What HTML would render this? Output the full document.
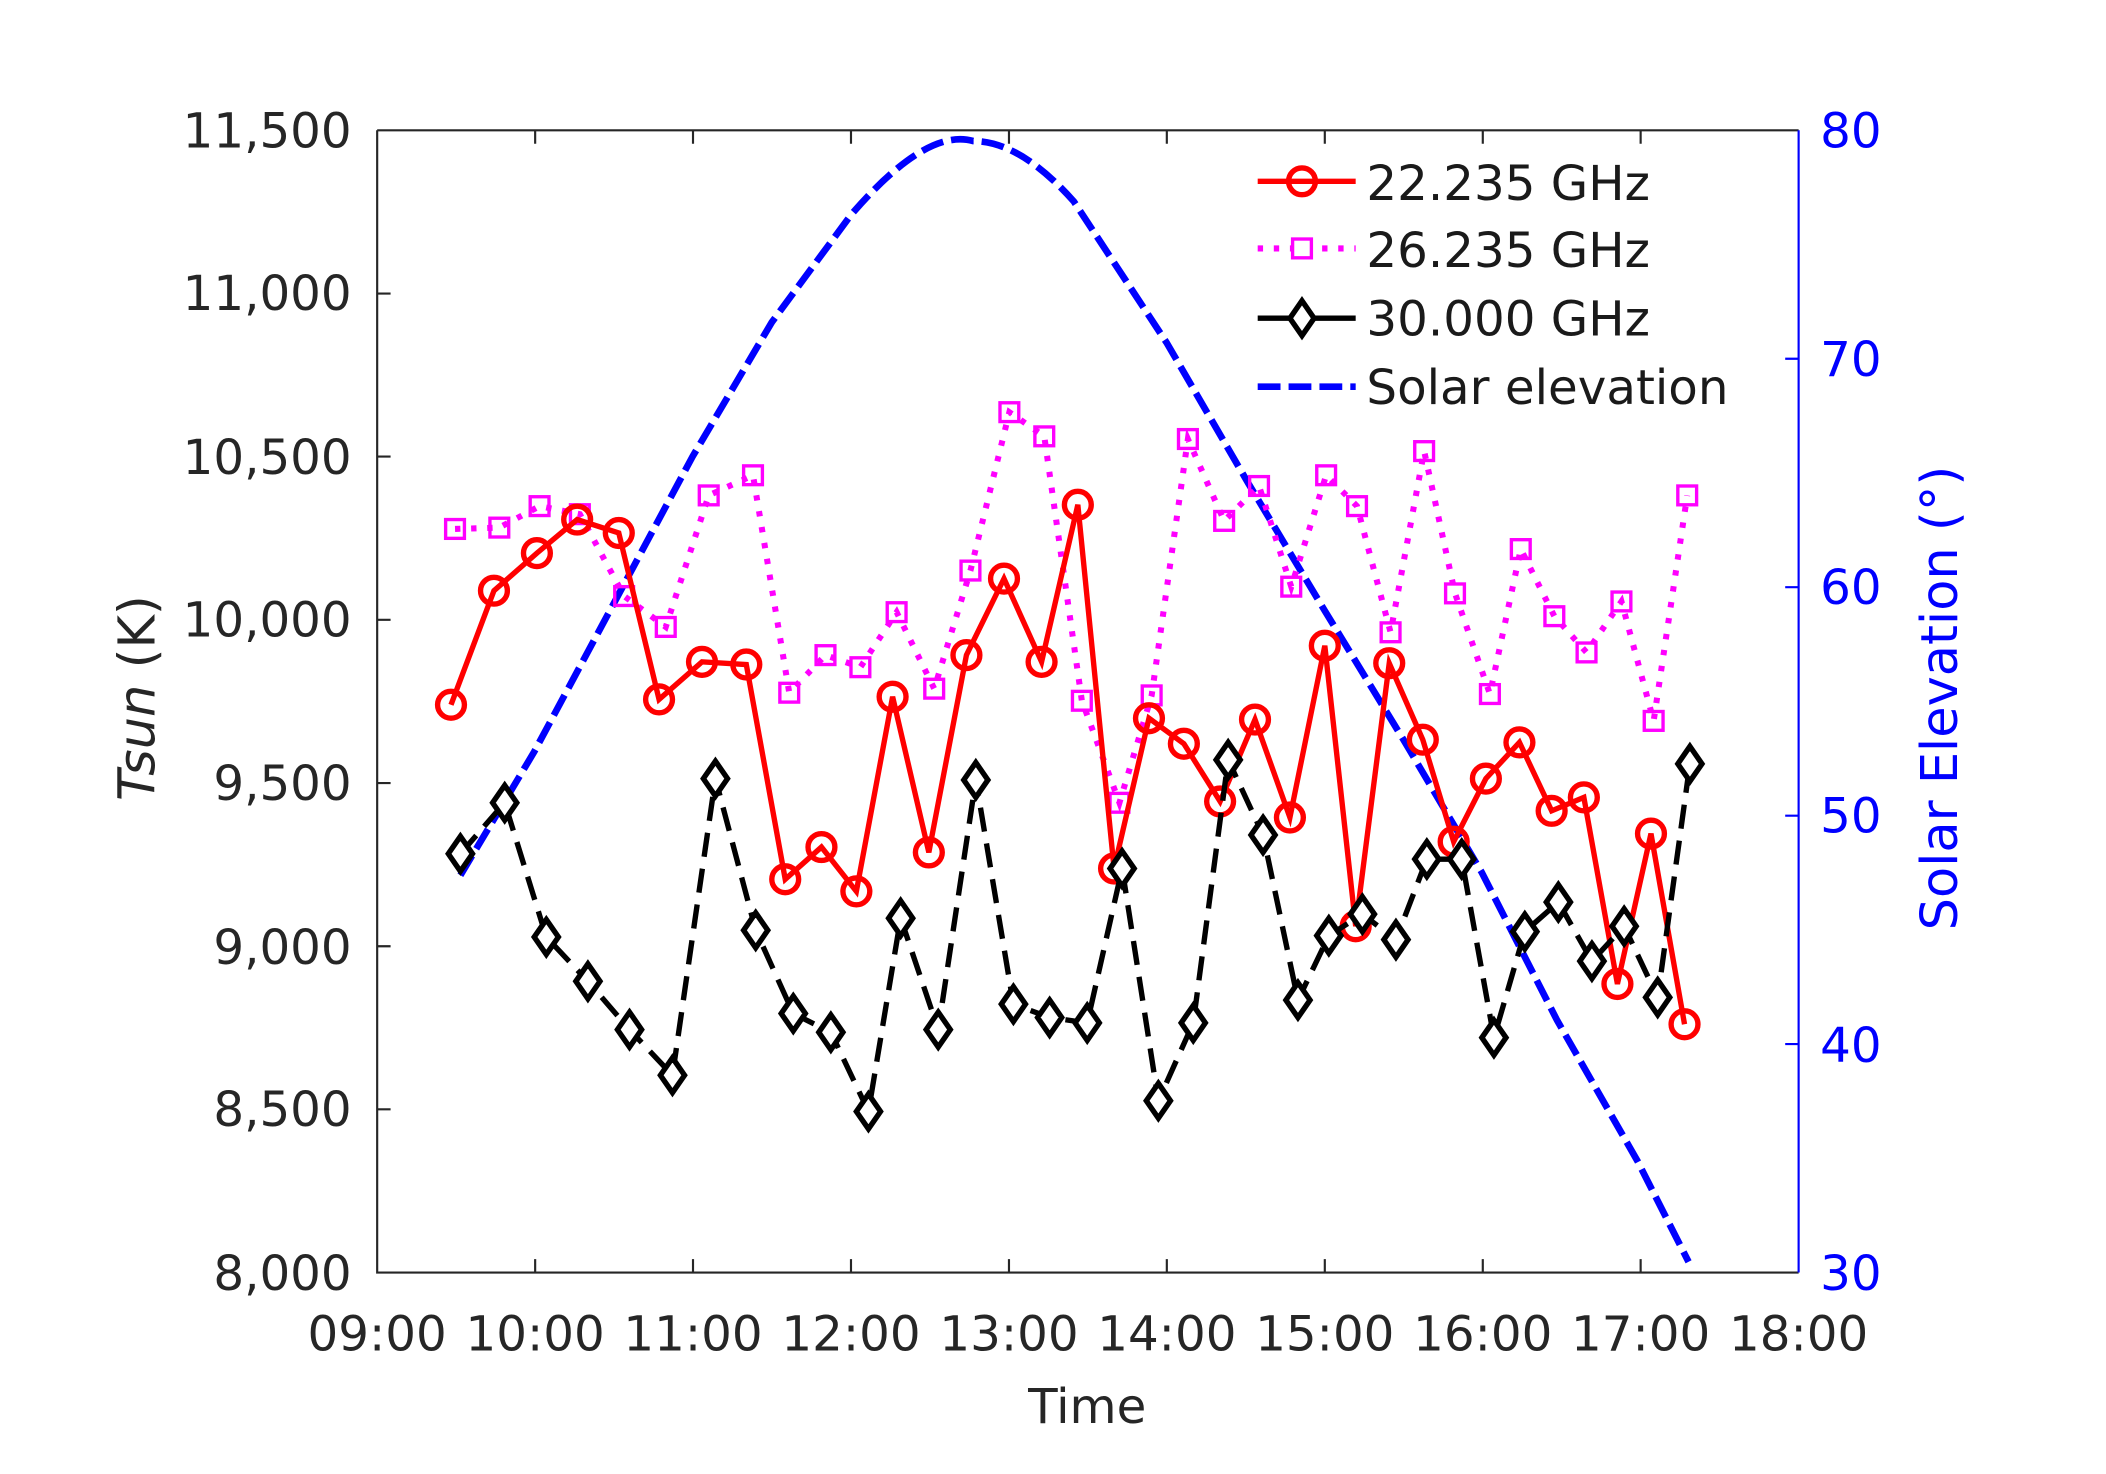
<!DOCTYPE html>
<html><head><meta charset="utf-8"><style>html,body{margin:0;padding:0;background:#fff}svg{display:block}</style></head>
<body>
<svg width="2106" height="1474" viewBox="0 0 1569 1098" xmlns="http://www.w3.org/2000/svg" font-family="'DejaVu Sans','Liberation Sans',sans-serif">
<rect width="1569" height="1098" fill="#fff"/>
<g stroke="#262626" stroke-width="1.6" fill="none">
<path d="M281 97 H1340 M281 97 V948 H1340"/>
<path d="M398.7 948 v-10 M516.3 948 v-10 M634 948 v-10 M751.7 948 v-10 M869.3 948 v-10 M987 948 v-10 M1104.7 948 v-10 M1222.3 948 v-10"/>
<path d="M398.7 97 v10 M516.3 97 v10 M634 97 v10 M751.7 97 v10 M869.3 97 v10 M987 97 v10 M1104.7 97 v10 M1222.3 97 v10"/>
<path d="M281 218.6 h10 M281 340.1 h10 M281 461.7 h10 M281 583.3 h10 M281 704.9 h10 M281 826.4 h10"/>
</g>
<g stroke="#0000ff" stroke-width="1.6" fill="none">
<path d="M1340 97 V948"/>
<path d="M1340 267.2 h-10 M1340 437.4 h-10 M1340 607.6 h-10 M1340 777.8 h-10"/>
</g>
<g font-size="36" fill="#262626" text-anchor="end">
<text x="262" y="110">11,500</text><text x="262" y="231">11,000</text><text x="262" y="353">10,500</text>
<text x="262" y="474">10,000</text><text x="262" y="596">9,500</text><text x="262" y="718">9,000</text>
<text x="262" y="839">8,500</text><text x="262" y="961">8,000</text>
</g>
<g font-size="36" fill="#0000ff">
<text x="1356" y="110">80</text><text x="1356" y="280">70</text><text x="1356" y="450">60</text>
<text x="1356" y="620">50</text><text x="1356" y="791">40</text><text x="1356" y="961">30</text>
</g>
<g font-size="36" fill="#262626" text-anchor="middle">
<text x="281" y="1006">09:00</text><text x="398.7" y="1006">10:00</text><text x="516.3" y="1006">11:00</text>
<text x="634" y="1006">12:00</text><text x="751.7" y="1006">13:00</text><text x="869.3" y="1006">14:00</text>
<text x="987" y="1006">15:00</text><text x="1104.7" y="1006">16:00</text><text x="1222.3" y="1006">17:00</text>
<text x="1340" y="1006">18:00</text>
<text x="810" y="1060">Time</text>
</g>
<text transform="translate(115,520) rotate(-90)" font-size="38" fill="#262626" text-anchor="middle"><tspan font-style="italic">Tsun</tspan> (K)</text>
<text transform="translate(1458,520) rotate(-90)" font-size="38" fill="#0000ff" text-anchor="middle">Solar Elevation (°)</text>

<path d="M343 652 L398 560 L457 450 L516 340 L575 240 L634 160 Q690 95 725 105 Q760 105 800 150 L869 255 L930 360 L987 455 L1045 550 L1104 650 L1160 760 L1220 865 L1258 940" fill="none" stroke="#0000ff" stroke-width="5" stroke-dasharray="17 6"/>

<polyline fill="none" stroke="#ff00ff" stroke-width="4.5" stroke-dasharray="4 8" points="339,394 372,393 402,377 432,383 465,444 496,467 528,369 561,354 588,516 615,488 641,497 668,456 696,513 723,425 752,307 778,325 806,522 834,598 858,518 885,327 912,388 938,362 962,437 988,354 1011,377 1036,471 1061,336 1084,442 1110,517 1133,409 1158,459 1182,486 1208,448 1232,537 1257,369"/>
<g fill="none" stroke="#ff00ff" stroke-width="2.5">
<rect x="332" y="387" width="14" height="14"/><rect x="365" y="386" width="14" height="14"/><rect x="395" y="370" width="14" height="14"/><rect x="425" y="376" width="14" height="14"/><rect x="458" y="437" width="14" height="14"/><rect x="489" y="460" width="14" height="14"/><rect x="521" y="362" width="14" height="14"/><rect x="554" y="347" width="14" height="14"/><rect x="581" y="509" width="14" height="14"/><rect x="608" y="481" width="14" height="14"/><rect x="634" y="490" width="14" height="14"/><rect x="661" y="449" width="14" height="14"/><rect x="689" y="506" width="14" height="14"/><rect x="716" y="418" width="14" height="14"/><rect x="745" y="300" width="14" height="14"/><rect x="771" y="318" width="14" height="14"/><rect x="799" y="515" width="14" height="14"/><rect x="827" y="591" width="14" height="14"/><rect x="851" y="511" width="14" height="14"/><rect x="878" y="320" width="14" height="14"/><rect x="905" y="381" width="14" height="14"/><rect x="931" y="355" width="14" height="14"/><rect x="955" y="430" width="14" height="14"/><rect x="981" y="347" width="14" height="14"/><rect x="1004" y="370" width="14" height="14"/><rect x="1029" y="464" width="14" height="14"/><rect x="1054" y="329" width="14" height="14"/><rect x="1077" y="435" width="14" height="14"/><rect x="1103" y="510" width="14" height="14"/><rect x="1126" y="402" width="14" height="14"/><rect x="1151" y="452" width="14" height="14"/><rect x="1175" y="479" width="14" height="14"/><rect x="1201" y="441" width="14" height="14"/><rect x="1225" y="530" width="14" height="14"/><rect x="1250" y="362" width="14" height="14"/>
</g>

<polyline fill="none" stroke="#ff0000" stroke-width="4" points="336,525 368,440 400,412 430,387 461,397 491,521 523,493 556,495 585,655 612,631 638,664 665,519 692,635 720,488 748,431 776,493 803,376 830,647 856,535 882,554 909,597 935,536 961,609 987,481 1010,690 1035,494 1060,551 1083,627 1107,580 1132,553 1156,604 1180,594 1205,733 1230,621 1255,763"/>
<g fill="none" stroke="#ff0000" stroke-width="4">
<circle cx="336" cy="525" r="10"/><circle cx="368" cy="440" r="10"/><circle cx="400" cy="412" r="10"/><circle cx="430" cy="387" r="10"/><circle cx="461" cy="397" r="10"/><circle cx="491" cy="521" r="10"/><circle cx="523" cy="493" r="10"/><circle cx="556" cy="495" r="10"/><circle cx="585" cy="655" r="10"/><circle cx="612" cy="631" r="10"/><circle cx="638" cy="664" r="10"/><circle cx="665" cy="519" r="10"/><circle cx="692" cy="635" r="10"/><circle cx="720" cy="488" r="10"/><circle cx="748" cy="431" r="10"/><circle cx="776" cy="493" r="10"/><circle cx="803" cy="376" r="10"/><circle cx="830" cy="647" r="10"/><circle cx="856" cy="535" r="10"/><circle cx="882" cy="554" r="10"/><circle cx="909" cy="597" r="10"/><circle cx="935" cy="536" r="10"/><circle cx="961" cy="609" r="10"/><circle cx="987" cy="481" r="10"/><circle cx="1010" cy="690" r="10"/><circle cx="1035" cy="494" r="10"/><circle cx="1060" cy="551" r="10"/><circle cx="1083" cy="627" r="10"/><circle cx="1107" cy="580" r="10"/><circle cx="1132" cy="553" r="10"/><circle cx="1156" cy="604" r="10"/><circle cx="1180" cy="594" r="10"/><circle cx="1205" cy="733" r="10"/><circle cx="1230" cy="621" r="10"/><circle cx="1255" cy="763" r="10"/>
</g>

<polyline fill="none" stroke="#000" stroke-width="4" stroke-dasharray="18 9" points="343,636 376,598 407,698 438,731 469,767 501,801 533,580 563,693 591,755 619,769 647,828 671,684 699,767 727,581 755,748 782,758 810,762 836,647 863,820 889,762 915,566 941,622 967,745 990,697 1015,681 1040,700 1063,640 1089,640 1113,773 1136,694 1161,672 1186,716 1210,690 1235,743 1259,569"/>
<g fill="#fff" stroke="#000" stroke-width="4">
<path d="M343 623 l9 13 l-9 13 l-9 -13z M376 585 l9 13 l-9 13 l-9 -13z M407 685 l9 13 l-9 13 l-9 -13z M438 718 l9 13 l-9 13 l-9 -13z M469 754 l9 13 l-9 13 l-9 -13z M501 788 l9 13 l-9 13 l-9 -13z M533 567 l9 13 l-9 13 l-9 -13z M563 680 l9 13 l-9 13 l-9 -13z M591 742 l9 13 l-9 13 l-9 -13z M619 756 l9 13 l-9 13 l-9 -13z M647 815 l9 13 l-9 13 l-9 -13z M671 671 l9 13 l-9 13 l-9 -13z M699 754 l9 13 l-9 13 l-9 -13z M727 568 l9 13 l-9 13 l-9 -13z M755 735 l9 13 l-9 13 l-9 -13z M782 745 l9 13 l-9 13 l-9 -13z M810 749 l9 13 l-9 13 l-9 -13z M836 634 l9 13 l-9 13 l-9 -13z M863 807 l9 13 l-9 13 l-9 -13z M889 749 l9 13 l-9 13 l-9 -13z M915 553 l9 13 l-9 13 l-9 -13z M941 609 l9 13 l-9 13 l-9 -13z M967 732 l9 13 l-9 13 l-9 -13z M990 684 l9 13 l-9 13 l-9 -13z M1015 668 l9 13 l-9 13 l-9 -13z M1040 687 l9 13 l-9 13 l-9 -13z M1063 627 l9 13 l-9 13 l-9 -13z M1089 627 l9 13 l-9 13 l-9 -13z M1113 760 l9 13 l-9 13 l-9 -13z M1136 681 l9 13 l-9 13 l-9 -13z M1161 659 l9 13 l-9 13 l-9 -13z M1186 703 l9 13 l-9 13 l-9 -13z M1210 677 l9 13 l-9 13 l-9 -13z M1235 730 l9 13 l-9 13 l-9 -13z M1259 556 l9 13 l-9 13 l-9 -13z"/>
</g>

<g>
<line x1="937" y1="135" x2="1010" y2="135" stroke="#ff0000" stroke-width="4"/>
<circle cx="970" cy="135" r="10" fill="none" stroke="#ff0000" stroke-width="4"/>
<line x1="937" y1="185" x2="1010" y2="185" stroke="#ff00ff" stroke-width="4.5" stroke-dasharray="4 8"/>
<rect x="963" y="178" width="14" height="14" fill="#fff" stroke="#ff00ff" stroke-width="2.5"/>
<line x1="937" y1="237" x2="1010" y2="237" stroke="#000" stroke-width="4"/>
<path d="M970 224 l9 13 l-9 13 l-9 -13z" fill="#fff" stroke="#000" stroke-width="4"/>
<line x1="937" y1="288" x2="1010" y2="288" stroke="#0000ff" stroke-width="5" stroke-dasharray="17 6"/>
<g font-size="36" fill="#1a1a1a">
<text x="1018" y="149">22.235 GHz</text><text x="1018" y="199">26.235 GHz</text>
<text x="1018" y="250">30.000 GHz</text><text x="1018" y="301">Solar elevation</text>
</g>
</g>
</svg>
</body></html>
